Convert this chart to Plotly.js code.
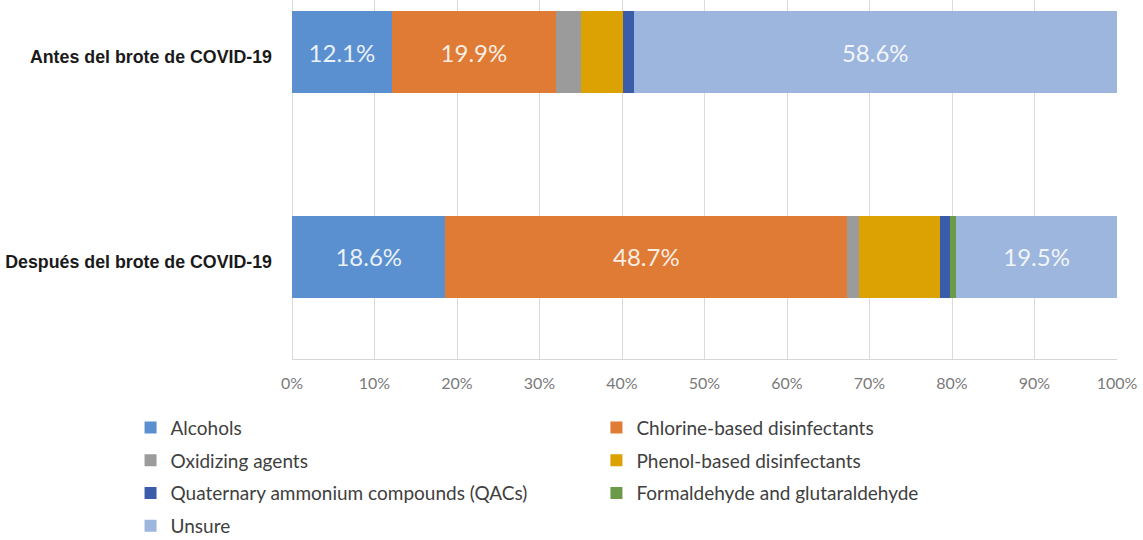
<!DOCTYPE html>
<html>
<head>
<meta charset="utf-8">
<script src="https://cdn.plot.ly/plotly-3.0.1.min.js"></script>
<style>
  html, body { margin: 0; padding: 0; background: #ffffff; }
  #chart { width: 1143px; height: 540px; }
</style>
</head>
<body>
<div id="chart"></div>
<script>
// Disinfectant types used, before and after the COVID-19 outbreak (% of respondents)
const categories = ['Antes del brote de COVID-19', 'Después del brote de COVID-19'];

const alcohols     = [12.1, 18.6];
const chlorine     = [19.9, 48.7];
const oxidizing    = [3.0, 1.4];
const phenol       = [5.1, 9.8];
const qacs         = [1.3, 1.2];
const formaldehyde = [0.0, 0.8];
const unsure       = [58.6, 19.5];

const xTickValues = [0, 10, 20, 30, 40, 50, 60, 70, 80, 90, 100];
const xTickLabels = ['0%', '10%', '20%', '30%', '40%', '50%', '60%', '70%', '80%', '90%', '100%'];

// name, values, colour, whether the segment carries a value label, legend column
const series = [
  ['Alcohols', alcohols, '#5b90d0', true, 'legend'],
  ['Chlorine-based disinfectants', chlorine, '#e07b35', true, 'legend2'],
  ['Oxidizing agents', oxidizing, '#9b9b9b', false, 'legend'],
  ['Phenol-based disinfectants', phenol, '#dca103', false, 'legend2'],
  ['Quaternary ammonium compounds (QACs)', qacs, '#3b5ca8', false, 'legend'],
  ['Formaldehyde and glutaraldehyde', formaldehyde, '#6b9a49', false, 'legend2'],
  ['Unsure', unsure, '#9db6dd', true, 'legend']
];

const traces = series.map(([name, values, color, labelled, legendRef]) => ({
  type: 'bar',
  orientation: 'h',
  name: name,
  x: values,
  y: categories,
  legend: legendRef,
  legendgroup: name,
  marker: { color: color, line: { width: 0 } },
  text: labelled ? values.map(v => v.toFixed(1) + '%') : values.map(() => ''),
  textposition: labelled ? 'inside' : 'none',
  insidetextanchor: 'middle',
  textangle: 0,
  insidetextfont: { family: 'Lato, sans-serif', size: 24, color: 'rgba(255,255,255,0.88)' },
  hoverinfo: 'name+x'
}));

const legendFont = { family: 'Lato, sans-serif', size: 19, color: '#404040' };

const layout = {
  width: 1143,
  height: 540,
  margin: { l: 292, r: 26, t: 0, b: 181, autoexpand: false },
  paper_bgcolor: '#ffffff',
  plot_bgcolor: '#ffffff',
  barmode: 'stack',
  bargap: 0.6,
  showlegend: true,
  xaxis: {
    range: [0, 100],
    tickmode: 'array',
    tickvals: xTickValues,
    ticktext: xTickLabels,
    showgrid: true,
    gridcolor: '#dadada',
    gridwidth: 1,
    zeroline: true,
    zerolinecolor: '#dadada',
    zerolinewidth: 1,
    showline: true,
    linecolor: '#d6d6d6',
    linewidth: 1,
    mirror: false,
    ticks: '',
    ticklabelstandoff: 10,
    tickfont: { family: 'Lato, sans-serif', size: 16, color: '#7a7a7a' },
    fixedrange: true
  },
  yaxis: {
    type: 'category',
    categoryorder: 'array',
    categoryarray: categories.slice().reverse(),
    range: [-0.5, 1.2555],
    showgrid: false,
    zeroline: false,
    showline: false,
    ticks: '',
    ticklabelstandoff: 19,
    ticklabelshift: 5,
    tickfont: { family: '"Liberation Sans", Arial, sans-serif', size: 17.8, color: '#1a1a1a', weight: 'bold' },
    fixedrange: true
  },
  legend: {
    orientation: 'v',
    traceorder: 'grouped',
    tracegroupgap: 5,
    x: -0.1957,
    xanchor: 'left',
    y: -0.1384,
    yanchor: 'top',
    bgcolor: 'rgba(0,0,0,0)',
    borderwidth: 0,
    font: legendFont
  },
  legend2: {
    orientation: 'v',
    traceorder: 'grouped',
    tracegroupgap: 5,
    x: 0.369,
    xanchor: 'left',
    y: -0.1384,
    yanchor: 'top',
    bgcolor: 'rgba(0,0,0,0)',
    borderwidth: 0,
    font: legendFont
  }
};

Plotly.newPlot('chart', traces, layout, { displayModeBar: false, staticPlot: true });
</script>
</body>
</html>
